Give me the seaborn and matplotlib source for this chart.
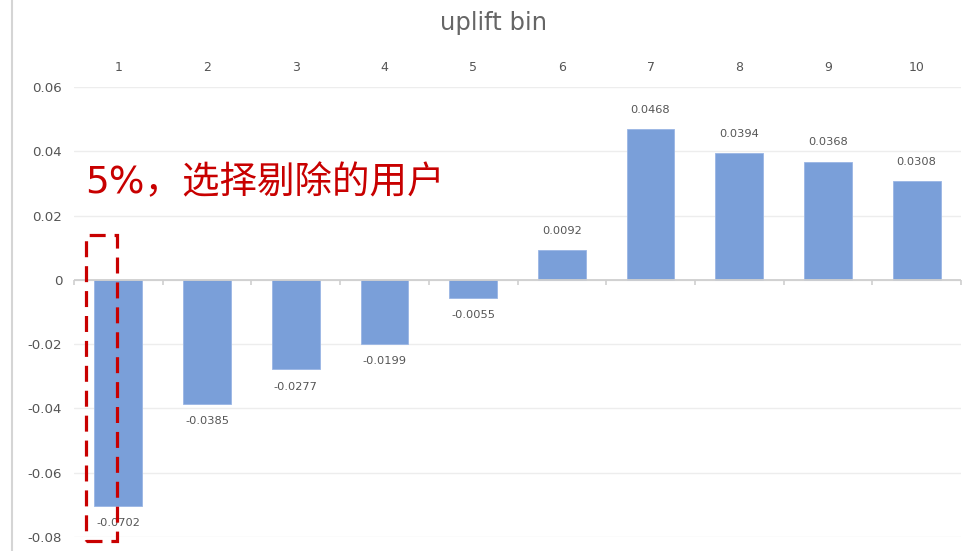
import matplotlib
matplotlib.use("Agg")
import matplotlib.pyplot as plt
import seaborn as sns
import numpy as np
import pandas as pd
from matplotlib.patches import Rectangle
from matplotlib.lines import Line2D

# uplift per bin
bins = ["1", "2", "3", "4", "5", "6", "7", "8", "9", "10"]
uplift = [-0.0702, -0.0385, -0.0277, -0.0199, -0.0055, 0.0092, 0.0468, 0.0394, 0.0368, 0.0308]
y_ticks = [0.06, 0.04, 0.02, 0, -0.02, -0.04, -0.06, -0.08]
y_tick_labels = ["0.06", "0.04", "0.02", "0", "-0.02", "-0.04", "-0.06", "-0.08"]
title = "uplift bin"
note = "5%，选择剔除的用户"

sns.set_theme(style="white")
plt.rcParams["font.family"] = ["DejaVu Sans", "Noto Sans CJK SC"]

df = pd.DataFrame({"bin": bins, "uplift": uplift})

fig = plt.figure(figsize=(9.66, 5.51), dpi=100)
ax = fig.add_axes([74 / 966, 1 - 537 / 551, (961 - 74) / 966, (537 - 87) / 551])

# light horizontal grid
for t in y_ticks:
    ax.axhline(t, color="#ededed", lw=1.0, zorder=0)

sns.barplot(data=df, x="bin", y="uplift", order=bins, color="#7a9fd9",
            width=0.54, saturation=1, ax=ax, zorder=2,
            edgecolor="#9ab6e4", linewidth=0.6)

ax.set_xlim(-0.5, len(bins) - 0.5)
ax.set_ylim(-0.08, 0.06)

# zero baseline with small ticks at bin boundaries
ax.axhline(0, color="#cfcfcf", lw=1.3, zorder=3)
bounds = np.arange(len(bins) + 1) - 0.5
ax.vlines(bounds, -0.0017, 0, color="#cfcfcf", lw=1.2, zorder=3, clip_on=False)

# value labels
for i, v in enumerate(uplift):
    off = 0.0060 if v >= 0 else -0.0055
    ax.text(i, v + off, f"{v:.4f}", ha="center", va="center",
            fontsize=8.2, color="#555555", zorder=4)

# axes styling: categories across the top
ax.xaxis.tick_top()
ax.set_xticks(range(len(bins)))
ax.set_xticklabels(bins)
ax.tick_params(axis="x", length=0, pad=9, labelsize=9, labelcolor="#555555")
ax.set_yticks(y_ticks)
ax.set_yticklabels(y_tick_labels)
ax.tick_params(axis="y", length=0, pad=8.5, labelsize=9.6, labelcolor="#555555")
ax.set_xlabel("")
ax.set_ylabel("")
for s in ax.spines.values():
    s.set_visible(False)

fig.text(493 / 966, 1 - 23 / 551, title, ha="center", va="center",
         fontsize=17.5, color="#666666")

# highlighted first bin
ax.add_patch(Rectangle((-0.364, -0.0812), 0.349, 0.0952, fill=False,
                       edgecolor="#c80000", lw=2.3, linestyle=(0, (5, 2.8)),
                       clip_on=False, zorder=5))
ax.text(-0.375, 0.0302, note, ha="left", va="center", fontsize=27,
        color="#c80000", family=["DejaVu Sans", "Noto Sans CJK SC"], zorder=5)

# left border line
fig.add_artist(Line2D([12 / 966, 12 / 966], [0, 1], color="#d5d5d5", lw=1.5))

fig.savefig("out.png", dpi=100, facecolor="white")
